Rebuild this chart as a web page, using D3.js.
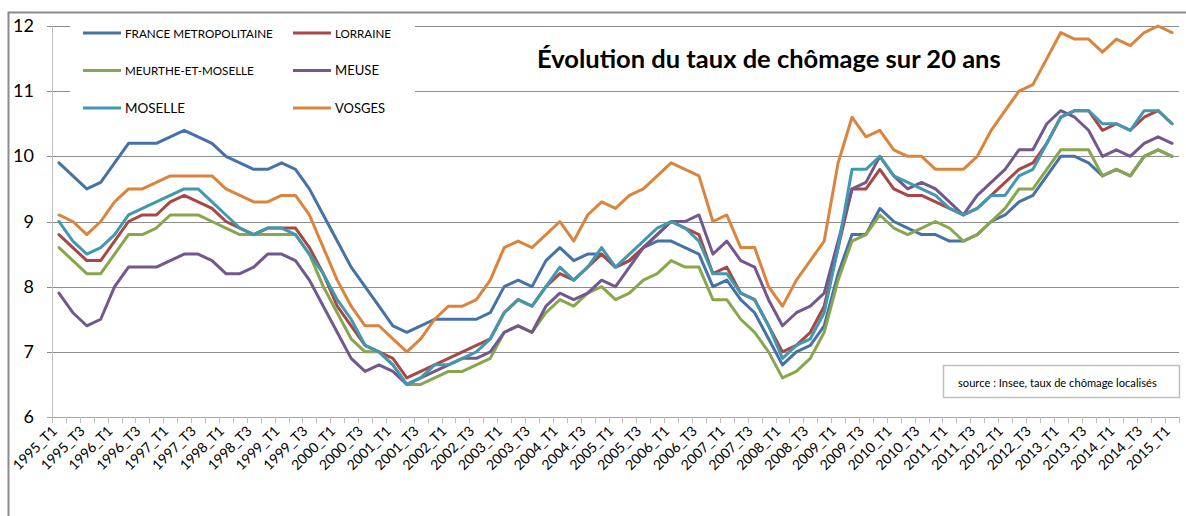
<!DOCTYPE html>
<html>
<head>
<meta charset="utf-8">
<script src="https://cdn.jsdelivr.net/npm/d3@7"></script>
<style>
	html, body { margin: 0; padding: 0; background: #ffffff; }
	svg { display: block; }
	text { font-family: Lato, 'Liberation Sans', sans-serif; }
</style>
</head>
<body>
<div id="chart"></div>
<script>
'use strict';

var arrayCategories = [
	'1995_T1','1995_T2','1995_T3','1995_T4',
	'1996_T1','1996_T2','1996_T3','1996_T4',
	'1997_T1','1997_T2','1997_T3','1997_T4',
	'1998_T1','1998_T2','1998_T3','1998_T4',
	'1999_T1','1999_T2','1999_T3','1999_T4',
	'2000_T1','2000_T2','2000_T3','2000_T4',
	'2001_T1','2001_T2','2001_T3','2001_T4',
	'2002_T1','2002_T2','2002_T3','2002_T4',
	'2003_T1','2003_T2','2003_T3','2003_T4',
	'2004_T1','2004_T2','2004_T3','2004_T4',
	'2005_T1','2005_T2','2005_T3','2005_T4',
	'2006_T1','2006_T2','2006_T3','2006_T4',
	'2007_T1','2007_T2','2007_T3','2007_T4',
	'2008_T1','2008_T2','2008_T3','2008_T4',
	'2009_T1','2009_T2','2009_T3','2009_T4',
	'2010_T1','2010_T2','2010_T3','2010_T4',
	'2011_T1','2011_T2','2011_T3','2011_T4',
	'2012_T1','2012_T2','2012_T3','2012_T4',
	'2013_T1','2013_T2','2013_T3','2013_T4',
	'2014_T1','2014_T2','2014_T3','2014_T4',
	'2015_T1'];

var arrayFrance = [
	9.9, 9.7, 9.5, 9.6,  9.9, 10.2, 10.2, 10.2,  10.3, 10.4, 10.3, 10.2,  10.0, 9.9, 9.8, 9.8,
	9.9, 9.8, 9.5, 9.1,  8.7, 8.3, 8.0, 7.7,  7.4, 7.3, 7.4, 7.5,  7.5, 7.5, 7.5, 7.6,
	8.0, 8.1, 8.0, 8.4,  8.6, 8.4, 8.5, 8.5,  8.3, 8.4, 8.6, 8.7,  8.7, 8.6, 8.5, 8.0,
	8.1, 7.8, 7.6, 7.2,  6.8, 7.0, 7.1, 7.4,  8.2, 8.8, 8.8, 9.2,  9.0, 8.9, 8.8, 8.8,
	8.7, 8.7, 8.8, 9.0,  9.1, 9.3, 9.4, 9.7,  10.0, 10.0, 9.9, 9.7,  9.8, 9.7, 10.0, 10.1,
	10.0];

var arrayLorraine = [
	8.8, 8.6, 8.4, 8.4,  8.7, 9.0, 9.1, 9.1,  9.3, 9.4, 9.3, 9.2,  9.0, 8.9, 8.8, 8.9,
	8.9, 8.9, 8.6, 8.2,  7.7, 7.4, 7.1, 7.0,  6.9, 6.6, 6.7, 6.8,  6.9, 7.0, 7.1, 7.2,
	7.6, 7.8, 7.7, 8.0,  8.2, 8.1, 8.3, 8.5,  8.3, 8.4, 8.6, 8.8,  9.0, 8.9, 8.8, 8.2,
	8.3, 7.9, 7.8, 7.4,  7.0, 7.1, 7.3, 7.7,  8.6, 9.5, 9.5, 9.8,  9.5, 9.4, 9.4, 9.3,
	9.2, 9.1, 9.2, 9.4,  9.6, 9.8, 9.9, 10.2,  10.6, 10.7, 10.7, 10.4,  10.5, 10.4, 10.6, 10.7,
	10.5];

var arrayMeurthe = [
	8.6, 8.4, 8.2, 8.2,  8.5, 8.8, 8.8, 8.9,  9.1, 9.1, 9.1, 9.0,  8.9, 8.8, 8.8, 8.8,
	8.8, 8.8, 8.5, 8.0,  7.6, 7.2, 7.0, 7.0,  6.8, 6.5, 6.5, 6.6,  6.7, 6.7, 6.8, 6.9,
	7.3, 7.4, 7.3, 7.6,  7.8, 7.7, 7.9, 8.0,  7.8, 7.9, 8.1, 8.2,  8.4, 8.3, 8.3, 7.8,
	7.8, 7.5, 7.3, 7.0,  6.6, 6.7, 6.9, 7.3,  8.1, 8.7, 8.8, 9.1,  8.9, 8.8, 8.9, 9.0,
	8.9, 8.7, 8.8, 9.0,  9.2, 9.5, 9.5, 9.8,  10.1, 10.1, 10.1, 9.7,  9.8, 9.7, 10.0, 10.1,
	10.0];

var arrayMeuse = [
	7.9, 7.6, 7.4, 7.5,  8.0, 8.3, 8.3, 8.3,  8.4, 8.5, 8.5, 8.4,  8.2, 8.2, 8.3, 8.5,
	8.5, 8.4, 8.1, 7.7,  7.3, 6.9, 6.7, 6.8,  6.7, 6.5, 6.6, 6.7,  6.8, 6.9, 6.9, 7.0,
	7.3, 7.4, 7.3, 7.7,  7.9, 7.8, 7.9, 8.1,  8.0, 8.3, 8.6, 8.8,  9.0, 9.0, 9.1, 8.5,
	8.7, 8.4, 8.3, 7.8,  7.4, 7.6, 7.7, 7.9,  8.7, 9.5, 9.6, 10.0,  9.7, 9.5, 9.6, 9.5,
	9.3, 9.1, 9.4, 9.6,  9.8, 10.1, 10.1, 10.5,  10.7, 10.6, 10.4, 10.0,  10.1, 10.0, 10.2, 10.3,
	10.2];

var arrayMoselle = [
	9.0, 8.7, 8.5, 8.6,  8.8, 9.1, 9.2, 9.3,  9.4, 9.5, 9.5, 9.3,  9.1, 8.9, 8.8, 8.9,
	8.9, 8.8, 8.5, 8.2,  7.8, 7.5, 7.1, 7.0,  6.8, 6.5, 6.6, 6.8,  6.8, 6.9, 7.0, 7.2,
	7.6, 7.8, 7.7, 8.0,  8.3, 8.1, 8.3, 8.6,  8.3, 8.5, 8.7, 8.9,  9.0, 8.9, 8.7, 8.2,
	8.2, 7.9, 7.8, 7.4,  6.9, 7.1, 7.2, 7.6,  8.6, 9.8, 9.8, 10.0,  9.7, 9.6, 9.5, 9.4,
	9.2, 9.1, 9.2, 9.4,  9.4, 9.7, 9.8, 10.2,  10.6, 10.7, 10.7, 10.5,  10.5, 10.4, 10.7, 10.7,
	10.5];

var arrayVosges = [
	9.1, 9.0, 8.8, 9.0,  9.3, 9.5, 9.5, 9.6,  9.7, 9.7, 9.7, 9.7,  9.5, 9.4, 9.3, 9.3,
	9.4, 9.4, 9.1, 8.6,  8.1, 7.7, 7.4, 7.4,  7.2, 7.0, 7.2, 7.5,  7.7, 7.7, 7.8, 8.1,
	8.6, 8.7, 8.6, 8.8,  9.0, 8.7, 9.1, 9.3,  9.2, 9.4, 9.5, 9.7,  9.9, 9.8, 9.7, 9.0,
	9.1, 8.6, 8.6, 8.0,  7.7, 8.1, 8.4, 8.7,  9.9, 10.6, 10.3, 10.4,  10.1, 10.0, 10.0, 9.8,
	9.8, 9.8, 10.0, 10.4,  10.7, 11.0, 11.1, 11.5,  11.9, 11.8, 11.8, 11.6,  11.8, 11.7, 11.9, 12.0,
	11.9];

var arraySeriesNames = ['FRANCE METROPOLITAINE','LORRAINE','MEURTHE-ET-MOSELLE','MEUSE','MOSELLE','VOSGES'];
var arraySeriesColors = ['#4572A7','#AA4643','#89A54E','#71588F','#4198AF','#DB843D'];
var arrayYTicks = [6, 7, 8, 9, 10, 11, 12];

var strTitle = '\u00C9volution du taux de ch\u00F4mage sur 20 ans';
var strSource = 'source : Insee, taux de ch\u00F4mage localis\u00E9s';

function FitText(sText, fWidth)
{
	var fLength = sText.node().getComputedTextLength();
	var fSize = parseFloat(sText.attr('font-size'));
	if (fLength > 0)
	{
		sText.attr('font-size', fSize * fWidth / fLength);
	}
}

var nWidth = 1186;
var nHeight = 516;
var nLeft = 52;
var nRight = 1179;
var nTop = 26;
var nBottom = 417;

var svg = d3.select('#chart').append('svg')
	.attr('width', nWidth)
	.attr('height', nHeight);

svg.append('rect')
	.attr('width', nWidth)
	.attr('height', nHeight)
	.attr('fill', '#ffffff');

// outer chart frame, runs off the right and bottom edges
svg.append('rect')
	.attr('x', 8.5)
	.attr('y', 12.5)
	.attr('width', 1300)
	.attr('height', 600)
	.attr('fill', 'none')
	.attr('stroke', '#8c8c8c')
	.attr('stroke-width', 2);

var x = d3.scaleBand()
	.domain(arrayCategories)
	.range([nLeft, nRight]);

var y = d3.scaleLinear()
	.domain([6, 12])
	.range([nBottom, nTop]);

var fBand = x.bandwidth();

// gridlines
svg.append('g').selectAll('line')
	.data(arrayYTicks)
	.enter()
		.append('line')
		.attr('x1', nLeft - 5)
		.attr('x2', nRight)
		.attr('y1', function(v) { return Math.round(y(v)) + 0.5; })
		.attr('y2', function(v) { return Math.round(y(v)) + 0.5; })
		.attr('stroke', function(v) { return v == 6 ? '#a6a6a6' : '#8c8c8c'; })
		.attr('stroke-width', 1);

svg.append('line')
	.attr('x1', nLeft + 0.5)
	.attr('x2', nLeft + 0.5)
	.attr('y1', nTop)
	.attr('y2', nBottom + 6)
	.attr('stroke', '#bfbfbf');

svg.append('g').selectAll('text')
	.data(arrayYTicks)
	.enter()
		.append('text')
		.attr('x', 34)
		.attr('y', function(v) { return y(v) + 6; })
		.attr('text-anchor', 'end')
		.attr('font-size', 18)
		.attr('fill', '#000000')
		.text(function(v) { return v; });

// category tick marks between points
var arrayBounds = arrayCategories.map(function(c) { return x(c); }).concat([nRight]);
svg.append('g').selectAll('line')
	.data(arrayBounds)
	.enter()
		.append('line')
		.attr('x1', function(v) { return Math.round(v) + 0.5; })
		.attr('x2', function(v) { return Math.round(v) + 0.5; })
		.attr('y1', nBottom)
		.attr('y2', nBottom + 6)
		.attr('stroke', '#bfbfbf');

svg.append('g').selectAll('text')
	.data(arrayCategories.filter(function(c, i) { return i % 2 == 0; }))
	.enter()
		.append('text')
		.attr('transform', function(c)
			{
				var fX = x(c) + fBand / 2 - 1;
				return 'translate(' + fX + ',' + 432 + ') rotate(-45)';
			})
		.attr('text-anchor', 'end')
		.attr('font-size', 14)
		.attr('fill', '#000000')
		.text(function(c) { return c; });

// series
var arraySeries = [arrayFrance, arrayLorraine, arrayMeurthe, arrayMeuse, arrayMoselle, arrayVosges];
var line = d3.line()
	.x(function(v, i) { return x(arrayCategories[i]) + fBand / 2; })
	.y(function(v) { return y(v); });

svg.append('g').selectAll('path')
	.data(arraySeries)
	.enter()
		.append('path')
		.attr('d', function(a) { return line(a); })
		.attr('fill', 'none')
		.attr('stroke', function(a, i) { return arraySeriesColors[i]; })
		.attr('stroke-width', 3)
		.attr('stroke-linejoin', 'round')
		.attr('stroke-linecap', 'round');

// legend
svg.append('rect')
	.attr('x', 70)
	.attr('y', 14)
	.attr('width', 345)
	.attr('height', 108)
	.attr('fill', '#ffffff');

var arrayLegendWidths = [148, 56, 129, 44, 60, 50];
arraySeriesNames.forEach(function(strName, i)
{
	var nCol = i % 2;
	var nRow = Math.floor(i / 2);
	var fX = nCol == 0 ? 83 : 293;
	var fY = 33 + nRow * 37.5;
	svg.append('line')
		.attr('x1', fX)
		.attr('x2', fX + 38)
		.attr('y1', fY)
		.attr('y2', fY)
		.attr('stroke', arraySeriesColors[i])
		.attr('stroke-width', 3);
	var sText = svg.append('text')
		.attr('x', fX + 42)
		.attr('y', fY + 4.5)
		.attr('font-size', 12)
		.attr('fill', '#000000')
		.text(strName);
	FitText(sText, arrayLegendWidths[i]);
});

var sTitle = svg.append('text')
	.attr('x', 537)
	.attr('y', 68)
	.attr('font-size', 24)
	.attr('font-weight', 'bold')
	.attr('fill', '#000000')
	.text(strTitle);
FitText(sTitle, 464);

// source box
svg.append('rect')
	.attr('x', 943.5)
	.attr('y', 365.5)
	.attr('width', 236)
	.attr('height', 32)
	.attr('fill', '#ffffff')
	.attr('stroke', '#bfbfbf')
	.attr('stroke-width', 1.5);

var sSource = svg.append('text')
	.attr('x', 958)
	.attr('y', 387)
	.attr('font-size', 11)
	.attr('fill', '#000000')
	.text(strSource);
FitText(sSource, 199);
</script>
</body>
</html>
